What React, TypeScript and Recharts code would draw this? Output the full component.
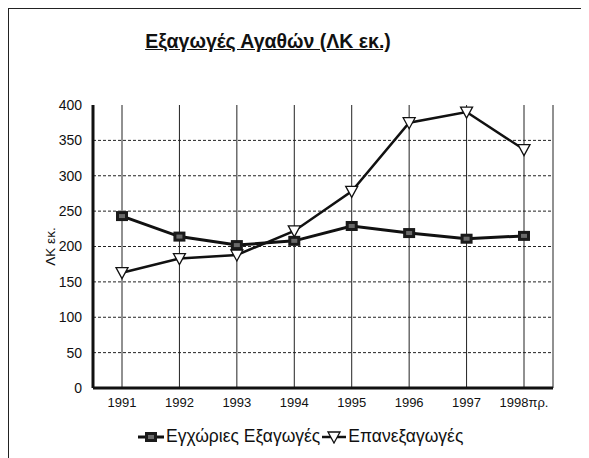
import { CartesianGrid, Line, LineChart, XAxis, YAxis } from 'recharts';

const years = ['1991', '1992', '1993', '1994', '1995', '1996', '1997', '1998πρ.'];
const domestic = [243, 214, 202, 208, 229, 219, 211, 215];
const reexports = [163, 183, 188, 222, 278, 375, 390, 337];
const yTicks = [0, 50, 100, 150, 200, 250, 300, 350, 400];
const gridValues = [50, 100, 150, 200, 250, 300, 350];

const data = years.map((y, i) => ({ year: y, domestic: domestic[i], reexports: reexports[i] }));

const FONT = '"Liberation Sans", Arial, sans-serif';

const SquareDot = (props: any) => {
  const { cx, cy } = props;
  if (cx == null || cy == null) return null;
  return (
    <g>
      <rect x={cx - 6} y={cy - 5} width={12} height={10} fill="#1a1a1a" />
      <rect x={cx - 3} y={cy - 2} width={6} height={4} fill="#6a6a6a" />
    </g>
  );
};

const TriangleDot = (props: any) => {
  const { cx, cy } = props;
  if (cx == null || cy == null) return null;
  return (
    <polygon
      points={`${cx - 6},${cy - 5} ${cx + 6},${cy - 5} ${cx},${cy + 6}`}
      fill="#fff"
      stroke="#111"
      strokeWidth={1.3}
    />
  );
};

export default function App() {
  return (
    <div
      style={{
        position: 'relative',
        width: 576,
        height: 452,
        borderTop: '1px solid #222',
        borderLeft: '1px solid #222',
        borderRight: '1px solid #222',
        fontFamily: FONT,
        color: '#111',
      }}
    >
      <div
        style={{
          position: 'absolute',
          top: 21,
          left: 0,
          width: 518,
          textAlign: 'center',
          fontSize: 19.5,
          fontWeight: 'bold',
          textDecoration: 'underline',
        }}
      >
        Εξαγωγές Αγαθών (ΛΚ εκ.)
      </div>
      <LineChart
        width={576}
        height={449}
        data={data}
        margin={{ top: 96, right: 32, bottom: 46, left: 0 }}
        style={{ position: 'absolute', top: 0, left: 0 }}
      >
        <CartesianGrid vertical horizontal={false} stroke="#222" strokeWidth={1} />
        <CartesianGrid
          vertical={false}
          horizontalValues={gridValues}
          stroke="#222"
          strokeDasharray="3 2"
          strokeWidth={1}
        />
        <XAxis
          dataKey="year"
          padding={{ left: 29, right: 29 }}
          axisLine={{ stroke: '#111', strokeWidth: 3 }}
          tickLine={false}
          height={24}
          tick={{ fill: '#111', fontSize: 13, fontFamily: FONT }}
          tickMargin={4}
        />
        <YAxis
          domain={[0, 400]}
          ticks={yTicks}
          width={84}
          axisLine={{ stroke: '#111', strokeWidth: 3 }}
          tickLine={false}
          tick={{ fill: '#111', fontSize: 14, fontFamily: FONT }}
          tickMargin={5}
          label={{ value: 'ΛΚ εκ.', angle: -90, position: 'center', dx: -1, fill: '#111', fontSize: 13.5, fontFamily: FONT }}
        />
        <Line
          dataKey="domestic"
          stroke="#111"
          strokeWidth={3}
          dot={<SquareDot />}
          activeDot={false}
          isAnimationActive={false}
        />
        <Line
          dataKey="reexports"
          stroke="#111"
          strokeWidth={2.5}
          dot={<TriangleDot />}
          activeDot={false}
          isAnimationActive={false}
        />
      </LineChart>
      <div
        style={{
          position: 'absolute',
          top: 417,
          left: 129,
          whiteSpace: 'nowrap',
          fontSize: 17.5,
          display: 'flex',
          alignItems: 'center',
        }}
      >
        <svg width={26} height={14}>
          <line x1={0} y1={7} x2={26} y2={7} stroke="#111" strokeWidth={3} />
          <rect x={7} y={2} width={12} height={10} fill="#1a1a1a" />
          <rect x={10} y={5} width={6} height={4} fill="#6a6a6a" />
        </svg>
        <span style={{ marginLeft: 2, marginRight: 2 }}>Εγχώριες Εξαγωγές</span>
        <svg width={24} height={14}>
          <line x1={0} y1={7} x2={24} y2={7} stroke="#111" strokeWidth={2.5} />
          <polygon points="6,2 18,2 12,13" fill="#fff" stroke="#111" strokeWidth={1.3} />
        </svg>
        <span style={{ marginLeft: 2 }}>Επανεξαγωγές</span>
      </div>
    </div>
  );
}
